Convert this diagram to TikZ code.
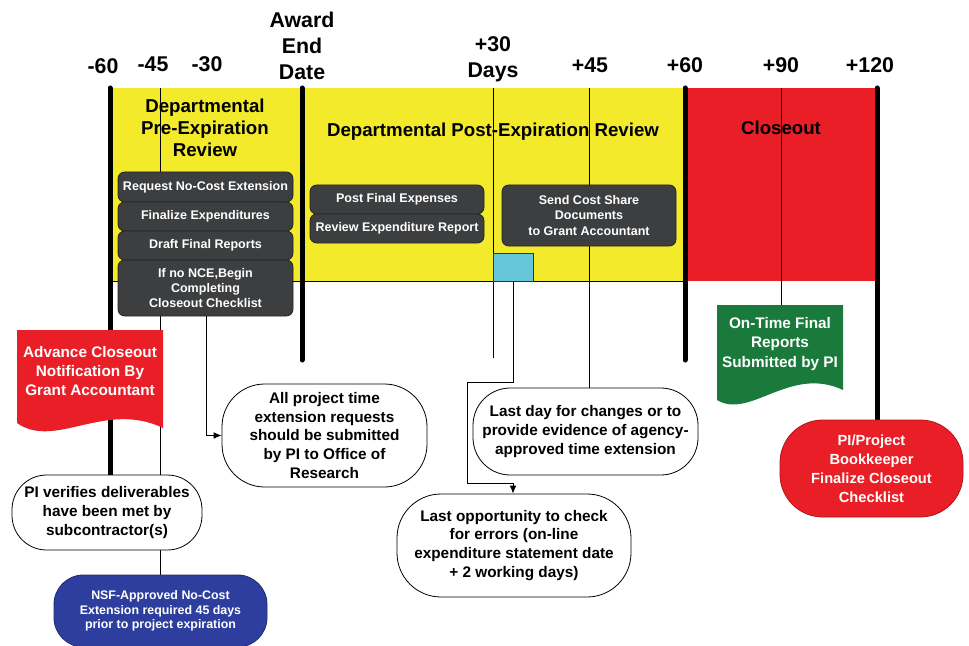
\documentclass[tikz,border=0pt]{standalone}
\usepackage{fontspec}
\setmainfont{Liberation Sans}
\usetikzlibrary{arrows.meta}
\definecolor{bandyellow}{RGB}{242,234,42}
\definecolor{bandred}{RGB}{234,30,38}
\definecolor{boxgray}{RGB}{60,62,64}
\definecolor{cyanbox}{RGB}{100,198,216}
\definecolor{bannergreen}{RGB}{26,122,60}
\definecolor{nsfblue}{RGB}{46,62,158}
\pgfdeclarelayer{bottom}
\pgfdeclarelayer{background}
\pgfsetlayers{bottom,background,main}
\begin{document}
\begin{tikzpicture}[x=0.75pt,y=-0.75pt,
  tick/.style={font=\fontsize{16}{19.5}\selectfont\bfseries, align=center, inner sep=0pt},
  head/.style={font=\fontsize{14}{16.5}\selectfont\bfseries, align=center, inner sep=0pt},
  darkbox/.style={draw=black!85, line width=0.6pt, fill=boxgray, rounded corners=5pt, text=white,
     font=\fontsize{9.4}{11.6}\selectfont\bfseries, align=center, inner sep=0pt},
  bubble/.style={draw=black, line width=0.6pt, fill=white, align=center,
     font=\fontsize{11.5}{14.2}\selectfont\bfseries, inner sep=0pt},
  bannertext/.style={text=white, align=center, font=\fontsize{11.5}{14.5}\selectfont\bfseries, inner sep=0pt},
  thickline/.style={line width=3.75pt, line cap=round},
  thinline/.style={line width=0.6pt},
  arr/.style={thinline, -{Latex[length=6pt,width=5pt]}}
]
\useasboundingbox (0,0) rectangle (969,645);

% band
\begin{pgfonlayer}{bottom}
\fill[bandyellow] (110,88) rectangle (685,281);
\fill[bandred] (685,88) rectangle (877,281);
\draw[thinline] (110,281) -- (685,281);
\end{pgfonlayer}
\node[draw=black!70!cyanbox, fill=cyanbox, line width=0.6pt, minimum width=30pt, minimum height=21pt, inner sep=0pt] (cyan) at (513,267) {};

% top labels
\node[tick] (lm60) at (103,66) {-60};
\node[tick] (lm45) at (153,64.5) {-45};
\node[tick] (lm30) at (207,64.5) {-30};
\node[tick] (laward) at (302,46) {Award\\End\\Date};
\node[tick] (lp30) at (493,59) {+30\\Days};
\node[tick] (lp45) at (590,65) {+45};
\node[tick] (lp60) at (685,65) {+60};
\node[tick] (lp90) at (781,65) {+90};
\node[tick] (lp120) at (870,65) {+120};

% top anchor coordinates of timeline lines
\coordinate (t60m) at (110,88);
\coordinate (t45m) at (160,88);
\coordinate (taward) at (302,88);
\coordinate (t30p) at (493,88);
\coordinate (t45p) at (589,88);
\coordinate (t60p) at (685,88);
\coordinate (t90p) at (781,88);
\coordinate (t120p) at (877,88);
\coordinate (eaward) at (302,360);
\coordinate (e30p) at (493,358);
\coordinate (e60p) at (685,360);

% headers
\node[head] (hpre) at (205,128) {Departmental\\Pre-Expiration\\Review};
\node[head] (hpost) at (493,132) {Departmental Post-Expiration Review};
\node[head] (hclose) at (781,128) {Closeout};

% dark boxes
\node[darkbox, minimum width=131.25pt, minimum height=22.5pt] (req) at (205.5,187) {Request No-Cost Extension};
\node[darkbox, minimum width=131.25pt, minimum height=21.75pt] (fin) at (205.5,216.5) {Finalize Expenditures};
\node[darkbox, minimum width=131.25pt, minimum height=21.75pt] (draft) at (205.5,245.5) {Draft Final Reports};
\node[darkbox, minimum width=131.25pt, minimum height=42pt] (ifno) at (205.5,288) {If no NCE,Begin\\Completing\\Closeout Checklist};
\node[darkbox, minimum width=130.5pt, minimum height=21.75pt] (post) at (397,199.5) {Post Final Expenses};
\node[darkbox, minimum width=130.5pt, minimum height=21.75pt] (rev) at (397,228.5) {Review Expenditure Report};
\node[darkbox, minimum width=130.5pt, minimum height=45.75pt] (send) at (589,215.5) {Send Cost Share\\Documents\\to Grant Accountant};

% bubbles
\node[bubble, minimum width=153.75pt, minimum height=77.25pt, rounded corners=32pt] (allproj) at (324.5,435.5)
  {All project time\\extension requests\\should be submitted\\by PI to Office of\\Research};
\node[bubble, minimum width=168.75pt, minimum height=65.25pt, rounded corners=28pt] (lastday) at (585.5,431.5)
  {Last day for changes or to\\provide evidence of agency-\\approved time extension};
\node[bubble, minimum width=175.5pt, minimum height=77.25pt, rounded corners=33pt] (lastopp) at (514,545.5)
  {Last opportunity to check\\for errors (on-line\\expenditure statement date\\+ 2 working days)};
\node[bubble, minimum width=142.5pt, minimum height=56.25pt, rounded corners=26pt] (pive) at (107,512.5)
  {PI verifies deliverables\\have been met by\\subcontractor(s)};
\node[draw=nsfblue!70!black, line width=0.6pt, fill=nsfblue, minimum width=159.75pt, minimum height=54pt, rounded corners=22pt,
  text=white, align=center, font=\fontsize{9.3}{10.9}\selectfont\bfseries, inner sep=0pt] (nsf) at (160.5,611)
  {NSF-Approved No-Cost\\Extension required 45 days\\prior to project expiration};
\node[draw=bandred!75!black, line width=0.6pt, fill=bandred, minimum width=137.25pt, minimum height=72.75pt, rounded corners=32pt,
  text=white, align=center, font=\fontsize{11}{14.2}\selectfont\bfseries, inner sep=0pt] (piproj) at (871.5,468.5)
  {PI/Project\\Bookkeeper\\Finalize Closeout\\Checklist};

\begin{pgfonlayer}{background}
% timeline lines (thin)
\draw[thinline] (t45m) -- (pive.north -| t45m);
\draw[thinline] (pive.south -| t45m) -- (nsf.north -| t45m);
\draw[thinline] (t30p) -- (e30p);
\draw[thinline] (t45p) -- (lastday.north -| t45p);
\draw[thinline] (t90p) -- (781,305);
% timeline lines (thick)
\draw[thickline] (t60m) -- (pive.north -| t60m);
\draw[thickline] (taward) -- (eaward);
\draw[thickline] (t60p) -- (e60p);
\draw[thickline] (t120p) -- (piproj.north -| t120p);
\end{pgfonlayer}

% connectors with arrows
\draw[arr] (ifno.south -| 206,0) -- (206,435.5) -- (allproj.west);
\draw[arr] (cyan.south) -- (513,382) -- (467,382) -- (467,483) -- (513,483) -- (lastopp.north -| 513,0);

% banners
\fill[bandred] (17,330) -- (163,330) -- (163,428) .. controls (105,400) and (55,450) .. (17,423) -- cycle;
\node[bannertext] (advance) at (90,371) {Advance Closeout\\Notification By\\Grant Accountant};
\fill[bannergreen] (717,305) -- (843,305) -- (843,390) .. controls (790,365) and (750,420) .. (717,400) -- cycle;
\node[bannertext] (ontime) at (780,344) {On-Time Final\\Reports\\Submitted by PI};
\end{tikzpicture}
\end{document}
